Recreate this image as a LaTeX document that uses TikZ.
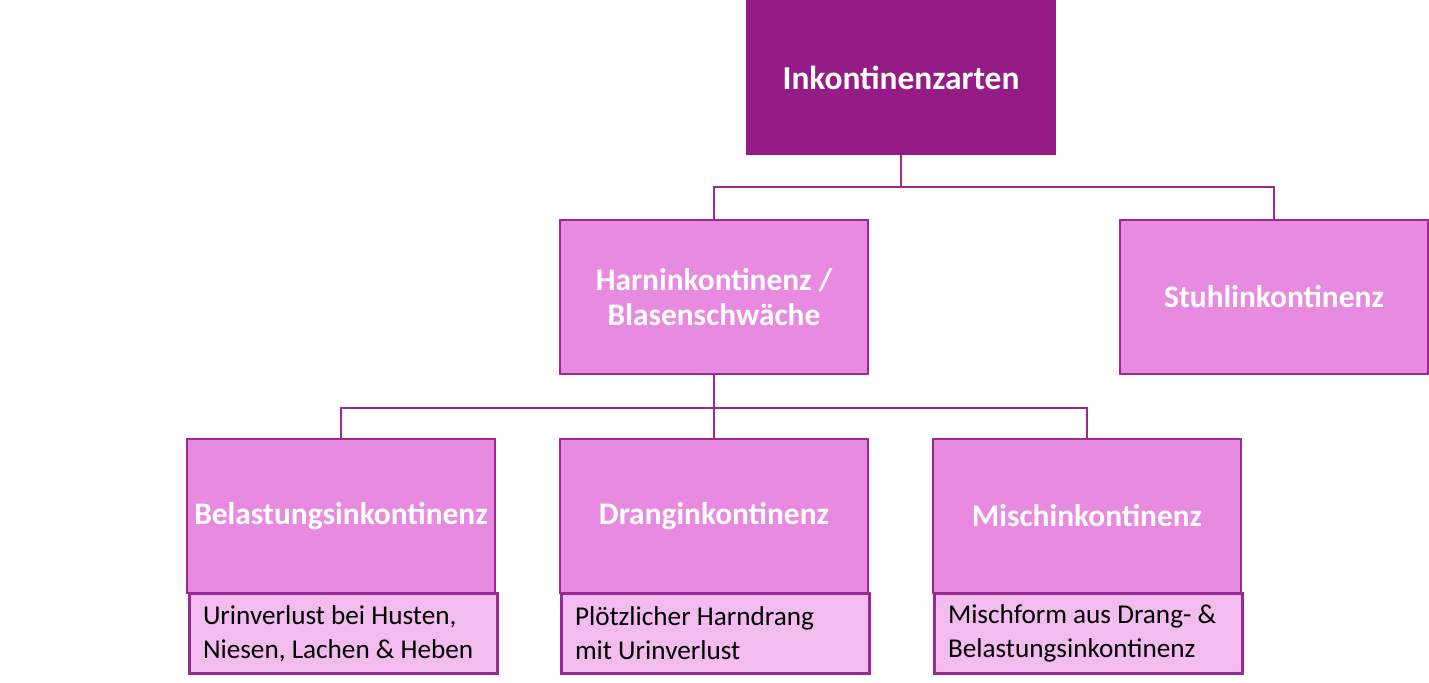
\documentclass[tikz,border=0pt]{standalone}
\usepackage{fontspec}
\setmainfont{Carlito}
\usepackage{xcolor}
\usepackage{tikz}
\usetikzlibrary{positioning}
\definecolor{TopPurple}{HTML}{951C86}
\definecolor{BoxPink}{HTML}{E98AE1}
\definecolor{DescPink}{HTML}{F2BDEE}
\definecolor{EdgePurple}{HTML}{9A2A92}

\tikzset{
  topbox/.style={fill=TopPurple, text=white, font=\fontsize{16.7}{20}\selectfont\bfseries, minimum width=155pt, minimum height=77.5pt, inner sep=0pt},
  typebox/.style={draw=EdgePurple, line width=1pt, fill=BoxPink, text=white, font=\fontsize{15.7}{17.5}\selectfont\bfseries, align=center, minimum width=154pt, minimum height=77pt, inner sep=0pt},
  descbox/.style={draw=EdgePurple, line width=1.5pt, fill=DescPink, text=black, font=\fontsize{13.6}{17}\selectfont, align=flush left, text width=140pt, minimum height=40pt, inner xsep=7pt, inner ysep=0pt},
  link/.style={draw=EdgePurple, line width=1pt}
}

\begin{document}
\begin{tikzpicture}[x=0.5pt, y=-0.5pt]
  \useasboundingbox (0,0) rectangle (1429,683);

  % top level
  \node[topbox] (arten) at (901,77.5) {Inkontinenzarten};

  % second level
  \node[typebox] (harn) at (714,297) {Harninkontinenz /\\Blasenschwäche};
  \node[typebox] (stuhl) at (1274,297) {Stuhlinkontinenz};

  % third level
  \node[typebox] (belast) at (341,516) {Belastungsinkontinenz};
  \node[typebox] (drang) at (714,516) {Dranginkontinenz};
  \node[typebox] (misch) at (1087,516) {Mischinkontinenz};

  % descriptions
  \node[descbox, below=-1pt of belast.south, xshift=1pt] (belastdesc) {Urinverlust bei Husten,\\Niesen, Lachen \& Heben};
  \node[descbox, below=-1pt of drang.south, xshift=0.5pt] (drangdesc) {Plötzlicher Harndrang\\mit Urinverlust};
  \node[descbox, below=-1pt of misch.south, xshift=0.5pt] (mischdesc) {Mischform aus Drang- \&\\Belastungsinkontinenz};

  % connectors
  \draw[link] (arten.south) -- ++(0,32) coordinate (j1);
  \draw[link] (j1) -| (harn.north);
  \draw[link] (j1) -| (stuhl.north);

  \draw[link] (harn.south) -- ++(0,33) coordinate (j2);
  \draw[link] (j2) -| (belast.north);
  \draw[link] (j2) -- (drang.north);
  \draw[link] (j2) -| (misch.north);
\end{tikzpicture}
\end{document}
